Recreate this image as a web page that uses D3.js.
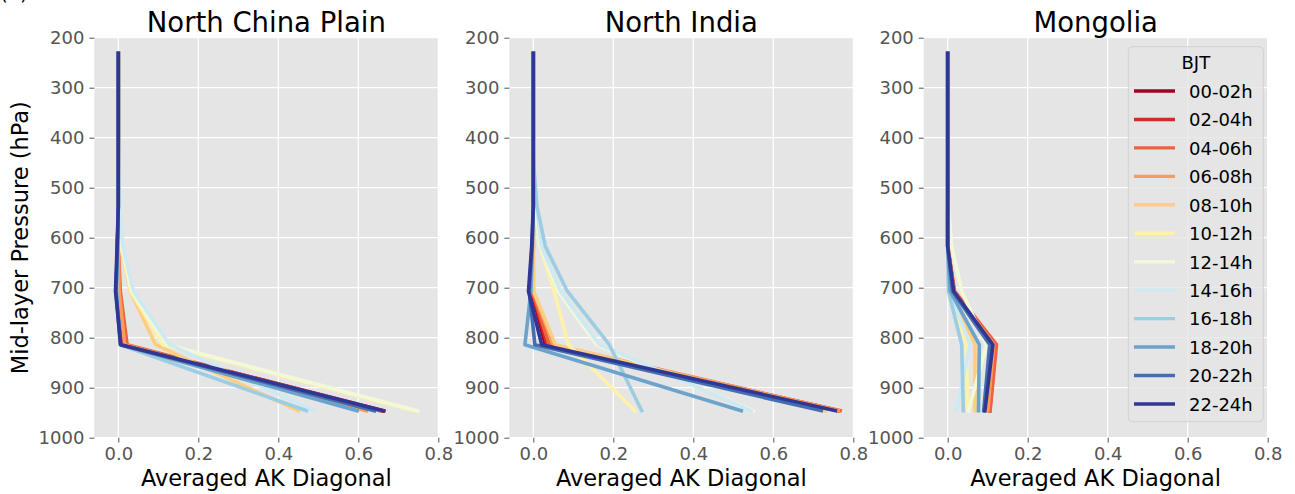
<!DOCTYPE html>
<html>
<head>
<meta charset="utf-8">
<script src="https://cdn.jsdelivr.net/npm/d3@7"></script>
<style>
  html, body { margin: 0; padding: 0; background: #ffffff; }
  svg { display: block; font-family: "DejaVu Sans", sans-serif; }
</style>
</head>
<body>
<svg id="chart" width="1295" height="494"></svg>
<script>
// ---------------- data ----------------
const regions = ["North China Plain", "North India", "Mongolia"];
const periods = ["00-02h","02-04h","04-06h","06-08h","08-10h","10-12h",
                 "12-14h","14-16h","16-18h","18-20h","20-22h","22-24h"];
const colors  = ["#a50026","#d22c27","#ef623e","#fa9c59","#fece7f","#fef1aa",
                 "#f1f9d9","#cde9f2","#9ccde2","#6ba3cc","#436fb1","#313695"];
const pressureLevels = [231, 320, 400, 465, 537, 617, 707, 814, 946];
const xTicks = [0.0, 0.2, 0.4, 0.6, 0.8];
const yTicks = [200, 300, 400, 500, 600, 700, 800, 900, 1000];

const ncpAK = [
  [0,0,0,0,0,-0.002,-0.004,0.010,0.660],
  [0,0,0,0,0,-0.002,-0.003,0.014,0.664],
  [0,0,0,0,0,0.000,0.005,0.022,0.655],
  [0,0,0,0,0,0.000,0.002,0.016,0.620],
  [0,0,0,0,0.001,0.006,0.030,0.093,0.450],
  [0,0,0,0,0.002,0.007,0.031,0.112,0.740],
  [0,0,0,0.001,0.003,0.009,0.034,0.122,0.748],
  [0,0,0,0.001,0.004,0.011,0.038,0.128,0.490],
  [0,0,0,0,0,-0.001,-0.004,0.004,0.470],
  [0,0,0,0,0,-0.002,-0.005,0.005,0.597],
  [0,0,0,0,0,-0.002,-0.006,0.006,0.640],
  [0,0,0,0,0,-0.003,-0.007,0.006,0.663]
];
const indiaAK = [
  [0,0,0,0,0,-0.001,-0.004,0.030,0.760],
  [0,0,0,0,0,-0.001,-0.003,0.035,0.762],
  [0,0,0,0,0,0.000,-0.002,0.040,0.767],
  [0,0,0,0,0,0.000,0.000,0.050,0.762],
  [0,0,0,0,0,0.000,0.001,0.055,0.730],
  [0,0,0,0,0.004,0.016,0.052,0.088,0.254],
  [0,0,0,0.002,0.006,0.017,0.062,0.158,0.550],
  [0,0,0,0.003,0.008,0.020,0.068,0.165,0.545],
  [0,0,0,0.002,0.009,0.030,0.085,0.190,0.271],
  [0,0,0,0,0,-0.002,-0.006,-0.021,0.520],
  [0,0,0,0,0,-0.003,-0.010,0.004,0.720],
  [0,0,0,0,0,-0.004,-0.012,0.021,0.755]
];
const mongoliaAK = [
  [0,0,0,0,0,0,0.015,0.118,0.104],
  [0,0,0,0,0,0,0.016,0.120,0.105],
  [0,0,0,0,0,0,0.017,0.122,0.106],
  [0,0,0,0,0,0,0.015,0.115,0.100],
  [0,0,0,0,0,0.001,0.008,0.068,0.068],
  [0,0,0,0,0,0.002,0.006,0.046,0.050],
  [0,0,0,0,0.002,0.010,0.035,0.097,0.052],
  [0,0,0,0,0,0.001,0.003,0.056,0.022],
  [0,0,0,0,0,0,0.002,0.035,0.039],
  [0,0,0,0,0,0,0.006,0.079,0.077],
  [0,0,0,0,0,0,0.012,0.105,0.090],
  [0,0,0,0,0,0,0.015,0.113,0.093]
];
const regionData = [ncpAK, indiaAK, mongoliaAK];

// ---------------- layout ----------------
const svg = d3.select("#chart");
const panelLefts = [94.3, 509.3, 923.7];
const panelW = 344, plotTop = 37.7, plotBottom = 437.7;
const tickLen = 4.9, tickPad = 5;

const yScale = d3.scaleLinear().domain([200, 1000]).range([plotTop, plotBottom]);

// partial "(a)" panel label, cut by the top edge as in the reference
svg.append("text").attr("x", 0).attr("y", 0).attr("font-size", 20).attr("fill", "#000").text("(a)");

regions.forEach((name, r) => {
  const L = panelLefts[r];
  const xScale = d3.scaleLinear().domain([-0.06, 0.8]).range([L, L + panelW]);
  const g = svg.append("g");

  g.append("rect").attr("x", L).attr("y", plotTop).attr("width", panelW).attr("height", plotBottom - plotTop)
    .attr("fill", "#e5e5e5");

  // grid
  g.append("g").selectAll("line").data(xTicks).join("line")
    .attr("x1", d => xScale(d)).attr("x2", d => xScale(d)).attr("y1", plotTop).attr("y2", plotBottom)
    .attr("stroke", "#ffffff").attr("stroke-width", 1.2);
  g.append("g").selectAll("line").data(yTicks).join("line")
    .attr("x1", L).attr("x2", L + panelW).attr("y1", d => yScale(d)).attr("y2", d => yScale(d))
    .attr("stroke", "#ffffff").attr("stroke-width", 1.2);

  // axes
  const ax = g.append("g").attr("transform", `translate(0,${plotBottom})`)
    .call(d3.axisBottom(xScale).tickValues(xTicks).tickFormat(d3.format(".1f")).tickSize(tickLen).tickPadding(tickPad));
  const ay = g.append("g").attr("transform", `translate(${L},0)`)
    .call(d3.axisLeft(yScale).tickValues(yTicks).tickFormat(d3.format("d")).tickSize(tickLen).tickPadding(tickPad));
  [ax, ay].forEach(a => {
    a.select(".domain").remove();
    a.selectAll(".tick line").attr("stroke", "#555555").attr("stroke-width", 1);
    a.selectAll(".tick text").attr("fill", "#555555").attr("font-size", 18)
      .attr("font-family", "DejaVu Sans");
  });

  // lines
  const line = d3.line().x(d => xScale(d[0])).y(d => yScale(d[1]));
  regionData[r].forEach((vals, i) => {
    const pts = vals.map((v, k) => [v, pressureLevels[k]]);
    g.append("path").datum(pts).attr("d", line)
      .attr("fill", "none").attr("stroke", colors[i]).attr("stroke-width", 3.6)
      .attr("stroke-linejoin", "round").attr("stroke-linecap", "square");
  });

  // title & x label
  g.append("text").attr("x", L + panelW / 2).attr("y", 32).attr("text-anchor", "middle")
    .attr("font-size", 27.5).attr("fill", "#000").text(name);
  g.append("text").attr("x", L + panelW / 2).attr("y", 486).attr("text-anchor", "middle")
    .attr("font-size", 22.5).attr("fill", "#000").text("Averaged AK Diagonal");
});

// y label
svg.append("text").attr("transform", `translate(28,${(plotTop + plotBottom) / 2}) rotate(-90)`)
  .attr("text-anchor", "middle").attr("font-size", 22.5).attr("fill", "#000")
  .text("Mid-layer Pressure (hPa)");

// legend
const lg = svg.append("g");
const lgX = 1128.3, lgY = 46.7, lgW = 135, lgH = 375;
lg.append("rect").attr("x", lgX).attr("y", lgY).attr("width", lgW).attr("height", lgH)
  .attr("rx", 4).attr("fill", "#e5e5e5").attr("fill-opacity", 0.8)
  .attr("stroke", "#cccccc").attr("stroke-opacity", 0.8).attr("stroke-width", 1);
lg.append("text").attr("x", lgX + lgW / 2).attr("y", 69.3).attr("text-anchor", "middle")
  .attr("font-size", 18).attr("fill", "#000").text("BJT");
periods.forEach((p, i) => {
  const yy = 91 + i * 28.45;
  lg.append("line").attr("x1", 1134).attr("x2", 1175).attr("y1", yy).attr("y2", yy)
    .attr("stroke", colors[i]).attr("stroke-width", 3.4).attr("stroke-linecap", "butt");
  lg.append("text").attr("x", 1189).attr("y", yy + 6.8).attr("font-size", 18)
    .attr("fill", "#000").text(p);
});
</script>
</body>
</html>
